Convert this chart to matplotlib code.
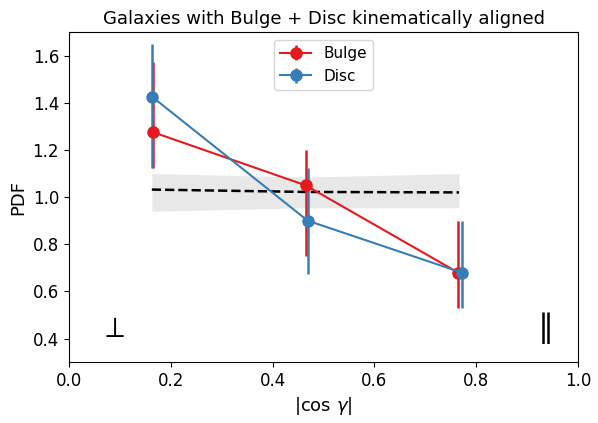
import matplotlib
matplotlib.use("Agg")
import matplotlib.pyplot as plt

# data
bulge_x = [0.166, 0.465, 0.764]
bulge_pdf = [1.275, 1.05, 0.68]
bulge_err_lo = [0.15, 0.30, 0.15]
bulge_err_hi = [0.30, 0.15, 0.22]
disc_x = [0.164, 0.469, 0.771]
disc_pdf = [1.425, 0.90, 0.68]
disc_err_lo = [0.30, 0.225, 0.15]
disc_err_hi = [0.225, 0.225, 0.22]

rand_x = [0.163, 0.465, 0.766]
rand_pdf = [1.032, 1.022, 1.02]
rand_lo = [0.94, 0.955, 0.955]
rand_hi = [1.10, 1.085, 1.10]

fig = plt.figure(figsize=(5.98, 4.23), dpi=100)
ax = fig.add_axes([0.115, 0.144, 0.852, 0.780])

ax.fill_between(rand_x, rand_lo, rand_hi, color='#e8e8e8', lw=0)
ax.plot(rand_x, rand_pdf, 'k--', lw=1.8)

ax.errorbar(bulge_x, bulge_pdf, yerr=[bulge_err_lo, bulge_err_hi],
            color='#e41a1c', marker='o', ms=8, lw=1.5, elinewidth=1.8, label='Bulge')
ax.errorbar(disc_x, disc_pdf, yerr=[disc_err_lo, disc_err_hi],
            color='#377eb8', marker='o', ms=8, lw=1.5, elinewidth=1.8, label='Disc')

ax.text(0.086, 0.44, r'$\perp$', fontsize=21, ha='center', va='center')
ax.text(0.926, 0.445, r'$\parallel$', fontsize=23, ha='center', va='center')

ax.set_xlim(0, 1)
ax.set_ylim(0.3, 1.7)
ax.set_xlabel(r'|cos $\gamma$|', fontsize=13)
ax.set_ylabel('PDF', fontsize=13)
ax.set_title('Galaxies with Bulge + Disc kinematically aligned', fontsize=13)
ax.tick_params(labelsize=12)
ax.legend(loc='upper center', fontsize=11)

fig.savefig('out.png', dpi=100)
